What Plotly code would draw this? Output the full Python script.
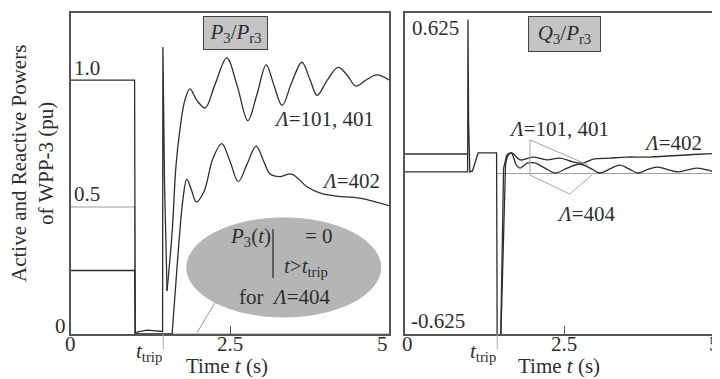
import plotly.graph_objects as go

# page body has an 8px default margin, so the figure is sized/positioned to compensate
OFF = 8
W, H = 720 - OFF, 379 - OFF
FONT = "Liberation Serif"
DARK = "#2e2e2e"
FRAME = "#555555"
FS = 21

# ---------------- data: active power P3/Pr3 (left panel) ----------------
t_P_101 = [0, 1.0, 1.01, 1.05, 1.2, 1.44, 1.445, 1.47, 1.51, 1.59, 1.65, 1.71, 1.79, 1.87, 1.98, 2.11,
           2.26, 2.45, 2.61, 2.78, 2.92, 3.07, 3.19, 3.32, 3.47, 3.63, 3.76, 3.87, 4.03, 4.2, 4.34,
           4.48, 4.64, 4.81, 5.0]
P_101 = [1.0, 1.0, 0.0, 0.008, 0.015, 0.01, 1.13, 0.6, 0.17, 0.40, 0.66, 0.80, 0.92, 0.965, 0.92, 0.89,
         0.98, 1.087, 0.98, 0.84, 0.94, 1.06, 0.98, 0.90, 0.99, 1.07, 1.0, 0.94, 1.0, 1.05, 1.02,
         0.976, 1.0, 1.02, 1.0]

t_P_402 = [0, 1.0, 1.01, 1.59, 1.64, 1.70, 1.76, 1.82, 1.89, 1.97, 2.09, 2.23, 2.37, 2.5, 2.63, 2.77,
           2.91, 3.03, 3.13, 3.29, 3.47, 3.71, 3.92, 4.18, 4.54, 5.0]
P_402 = [0.25, 0.25, 0.0, 0.0, 0.17, 0.37, 0.53, 0.61, 0.57, 0.52, 0.56, 0.69, 0.75, 0.68, 0.60, 0.67,
         0.74, 0.68, 0.63, 0.62, 0.63, 0.58, 0.555, 0.543, 0.535, 0.505]

t_P_404 = [0, 1.0, 1.01, 5.0]
P_404 = [0.5, 0.5, 0.0, 0.0]

# ---------------- data: reactive power Q3/Pr3 (right panel) ----------------
t_Q_101 = [0, 0.985, 0.99, 1.0, 1.02, 1.06, 1.15, 1.44, 1.45, 1.5, 1.55, 1.6, 1.67, 1.75, 1.81, 1.92,
           2.04, 2.2, 2.36, 2.55, 2.75, 2.91, 3.07, 3.22, 3.38, 3.52, 3.66, 3.8, 3.96, 4.12, 4.29,
           4.45, 4.59, 4.75, 4.89, 5.0]
Q_101 = [0.006, 0.006, 0.6, 0.2, 0.006, 0.01, 0.08, 0.08, -0.7, -0.7, 0.02, 0.072, 0.08, 0.033, 0.021, 0.04,
         0.041, 0.021, 0.002, 0.021, 0.037, 0.021, 0.002, 0.018, 0.033, 0.018, 0.002, 0.014, 0.025,
         0.016, 0.006, 0.014, 0.021, 0.014, 0.006, 0.01]

t_Q_402 = [0, 0.99, None, 1.5, 1.55, 1.58, 1.62, 1.68, 1.81, 2.01, 2.23, 2.44, 2.64, 2.8, 2.96, 3.22,
           3.49, 3.85, 4.53, 5.0]
Q_402 = [0.076, 0.076, None, -0.7, -0.2, 0.03, 0.07, 0.08, 0.053, 0.064, 0.053, 0.06, 0.045, 0.041,
         0.056, 0.06, 0.064, 0.064, 0.074, 0.08]

t_Q_404 = [1.45, 5.0]
Q_404 = [0.0, 0.0]

t_trip = 1.45
x_ticks = [0, 2.5, 5]
x_ticktext = ["0", "2.5", "5"]


def px(x):
    return (x - OFF) / W


def py(y):
    return 1 - (y - OFF) / H


fig = go.Figure()
line_dark = dict(color=DARK, width=1.3)


def add_curve(t, v, split_t, xa, ya):
    """linear for steps/transients, smooth spline for the oscillating part"""
    k = t.index(split_t)
    fig.add_trace(go.Scatter(x=t[:k + 1], y=v[:k + 1], mode="lines", line=line_dark, connectgaps=False,
                             xaxis=xa, yaxis=ya, showlegend=False, hoverinfo="skip"))
    fig.add_trace(go.Scatter(x=t[k:], y=v[k:], mode="lines", line=dict(shape="spline", smoothing=1.0, **line_dark),
                             xaxis=xa, yaxis=ya, showlegend=False, hoverinfo="skip"))


fig.add_trace(go.Scatter(x=t_P_404, y=P_404, mode="lines", line=dict(color="#9a9a9a", width=1.2),
                         xaxis="x", yaxis="y", showlegend=False))
add_curve(t_P_402, P_402, 1.59, "x", "y")
add_curve(t_P_101, P_101, 1.51, "x", "y")

fig.add_trace(go.Scatter(x=t_Q_404, y=Q_404, mode="lines", line=dict(color="#a0a0a0", width=1.2),
                         xaxis="x2", yaxis="y2", showlegend=False))
add_curve(t_Q_402, Q_402, 1.58, "x2", "y2")
add_curve(t_Q_101, Q_101, 1.6, "x2", "y2")

xa_common = dict(showgrid=False, zeroline=False, showline=True, linecolor=FRAME, linewidth=1.5,
                 mirror=True, ticks="inside", ticklen=8, tickcolor=FRAME, tickwidth=1,
                 tickvals=x_ticks, ticktext=x_ticktext, showticklabels=False, fixedrange=True)
ya_common = dict(showgrid=False, zeroline=False, showline=True, linecolor=FRAME, linewidth=1.5,
                 showticklabels=False, ticks="", fixedrange=True)

fig.update_layout(
    width=W, height=H,
    margin=dict(l=0, r=0, t=0, b=0),
    paper_bgcolor="white", plot_bgcolor="white",
    font=dict(family=FONT, size=FS, color=DARK),
    xaxis=dict(domain=[px(71), px(389)], range=[0, 5], anchor="y", **xa_common),
    yaxis=dict(domain=[py(334), py(13)], range=[0, 1.264], anchor="x", mirror=True, **ya_common),
    xaxis2=dict(domain=[px(405), 1.0], range=[0, (720 - 405) / 63.6], anchor="y2", **xa_common),
    yaxis2=dict(domain=[py(334), py(13)], range=[-0.625, 0.625], anchor="x2", mirror=False, **ya_common),
)

f = dict(family=FONT, size=FS, color=DARK)
ann = []


def A(x, y, text, **kw):
    d = dict(xref="paper", yref="paper", x=px(x), y=py(y), text=text, showarrow=False, font=f,
             xanchor="center", yanchor="middle")
    d.update(kw)
    ann.append(d)


# y-axis title
A(32, 164, "Active and Reactive Powers<br>of WPP-3 (pu)", textangle=-90)

# y tick labels
A(87, 68, "1.0")
A(87, 194, "0.5")
A(60, 326, "0")
A(435, 28, "0.625")
A(438, 321, "-0.625")

# x tick labels (from tick arrays)
for xr, x0 in [("x", 71), ("x2", 405)]:
    for val, lab in zip(x_ticks, x_ticktext):
        xpix = x0 + val * 63.6
        if xr == "x" and val == 5:
            A(xpix, 344, lab, xanchor="right", xshift=1)
        elif xr == "x2" and val == 5:
            A(720, 344, lab, xanchor="right", xshift=2)
        elif val == 0:
            A(xpix + (2 if xr == "x2" else 0), 344, lab)
        else:
            A(xpix, 344, lab)

# t_trip and axis titles
for x0, tcent in [(71, 227), (405, 559)]:
    A(x0 + t_trip * 63.6 + 1, 352, "<i>t</i><sub>trip</sub>", xanchor="right")
    A(tcent, 366, "Time <i>t</i> (s)")

# panel titles
A(235.5, 33, "<i>P</i><sub>3</sub>/<i>P</i><sub>r3</sub>", bgcolor="#c4c4c4", bordercolor="#444444",
  borderwidth=1, borderpad=1, width=61, height=30)
A(564.5, 34, "<i>Q</i><sub>3</sub>/<i>P</i><sub>r3</sub>", bgcolor="#c4c4c4", bordercolor="#444444",
  borderwidth=1, borderpad=1, width=69, height=32)

# curve labels
A(324, 119, "<i>Λ</i>=101, 401")
A(351, 181, "<i>Λ</i>=402")
A(559, 129, "<i>Λ</i>=101, 401")
A(673, 143, "<i>Λ</i>=402")
A(586, 214, "<i>Λ</i>=404")

# ellipse texts
A(250, 237, "<i>P</i><sub>3</sub>(<i>t</i>)")
A(319, 236, "= 0")
A(306, 267, "<i>t</i>><i>t</i><sub>trip</sub>")
A(285, 297, "for  <i>Λ</i>=404")

fig.update_layout(annotations=ann)

shapes = []
shapes.append(dict(type="circle", xref="x", yref="y", x0=1.82, x1=4.87, y0=0.067, y1=0.457,
                   fillcolor="#b5b5b5", line=dict(color="#b5b5b5", width=1), layer="below"))
shapes.append(dict(type="line", xref="paper", yref="paper", x0=px(273), x1=px(273), y0=py(229), y1=py(278),
                   line=dict(color="#444444", width=1.5)))
shapes.append(dict(type="line", xref="x", yref="y", x0=2.26, y0=0.122, x1=1.98, y1=0.004,
                   line=dict(color="#9a9a9a", width=1)))
# right leaders
lead = [(2.88, 0.033), (1.965, 0.131), (1.965, -0.006), (2.59, -0.08), (2.94, -0.006)]
for (a, b), (c, d) in zip(lead[:-1], lead[1:]):
    shapes.append(dict(type="line", xref="x2", yref="y2", x0=a, y0=b, x1=c, y1=d,
                       line=dict(color="#a5a5a5", width=1)))
# t_trip marks below axes
for xr in ["x", "x2"]:
    shapes.append(dict(type="line", xref=xr, yref="paper", x0=t_trip, x1=t_trip, y0=py(334), y1=py(349),
                       line=dict(color="#aaaaaa", width=1)))
fig.update_layout(shapes=shapes)

fig.write_html("out.html")
